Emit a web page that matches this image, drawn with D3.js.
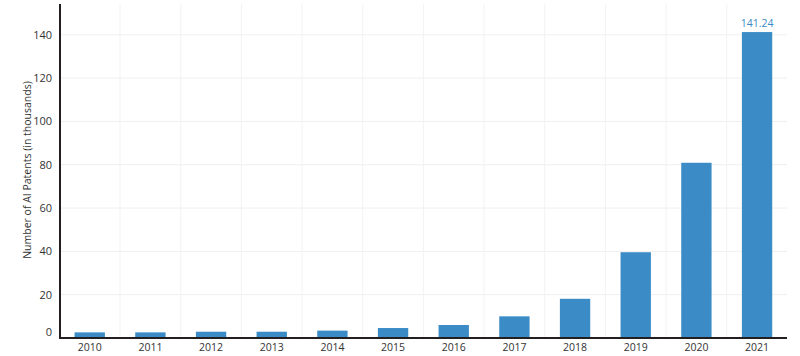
<!DOCTYPE html>
<html><head><meta charset="utf-8">
<script src="https://cdn.jsdelivr.net/npm/d3@7"></script>
<style>body{margin:0;background:#fff}svg{display:block}</style>
</head><body><svg id="c" width="800" height="356"></svg>
<script>
const years = ["2010","2011","2012","2013","2014","2015","2016","2017","2018","2019","2020","2021"];
const patents = [2.6, 2.6, 2.9, 2.9, 3.4, 4.6, 6.0, 10.0, 18.1, 39.6, 80.9, 141.24];
const yTicks = [0, 20, 40, 60, 80, 100, 120, 140];
const yTitle = "Number of AI Patents (in thousands)";

const svg = d3.select("#c");
const font = "'Open Sans', sans-serif";
const x = d3.scaleBand().domain(years).range([59.4, 787.4]).paddingInner(0.5).paddingOuter(0.25);
const y = d3.scaleLinear().domain([0, 154.2]).range([338, 4]);

// grid
const g = svg.append("g");
g.selectAll("line.h").data(yTicks.slice(1)).join("line")
  .attr("x1", 60).attr("x2", 787).attr("y1", d => y(d)).attr("y2", d => y(d))
  .attr("stroke", "#efefef").attr("stroke-width", 1);
g.selectAll("line.v").data(years.slice(1)).join("line")
  .attr("x1", d => x(d) - x.step()*0.25).attr("x2", d => x(d) - x.step()*0.25)
  .attr("y1", 4).attr("y2", 338)
  .attr("stroke", "#f2f2f2").attr("stroke-width", 1);

// bars
svg.selectAll("rect.bar").data(years).join("rect")
  .attr("x", d => x(d)).attr("width", x.bandwidth())
  .attr("y", (d,i) => y(patents[i])).attr("height", (d,i) => y(0) - y(patents[i]))
  .attr("fill", "#3a8bc6");

// value label on last bar
svg.append("text").attr("x", x("2021") + x.bandwidth()/2).attr("y", y(141.24) - 5)
  .attr("text-anchor", "middle").attr("font-family", font).attr("font-size", 10.5)
  .attr("fill", "#3a8bc6").text("141.24");

// y axis
const ya = svg.append("g").attr("transform", "translate(60,0)")
  .call(d3.axisLeft(y).tickValues(yTicks).tickSize(0).tickPadding(8));
ya.select(".domain").remove();
ya.selectAll("text").attr("font-family", font).attr("font-size", 11).attr("fill", "#333")
  .attr("dy", d => d === 0 ? "-0.2em" : "0.32em");
svg.append("line").attr("x1", 60).attr("x2", 60).attr("y1", 4).attr("y2", 339)
  .attr("stroke", "#231f20").attr("stroke-width", 2);

// x axis
const xa = svg.append("g").attr("transform", "translate(0,338)")
  .call(d3.axisBottom(x).tickSize(0).tickPadding(6));
xa.select(".domain").remove();
xa.selectAll("text").attr("font-family", font).attr("font-size", 10.5).attr("fill", "#333");
svg.append("line").attr("x1", 59).attr("x2", 787).attr("y1", 338).attr("y2", 338)
  .attr("stroke", "#231f20").attr("stroke-width", 2);

// y title
svg.append("text").attr("transform", "translate(31,170) rotate(-90)")
  .attr("text-anchor", "middle").attr("font-family", font).attr("font-size", 10.5)
  .attr("fill", "#333").text(yTitle);
</script></body></html>
